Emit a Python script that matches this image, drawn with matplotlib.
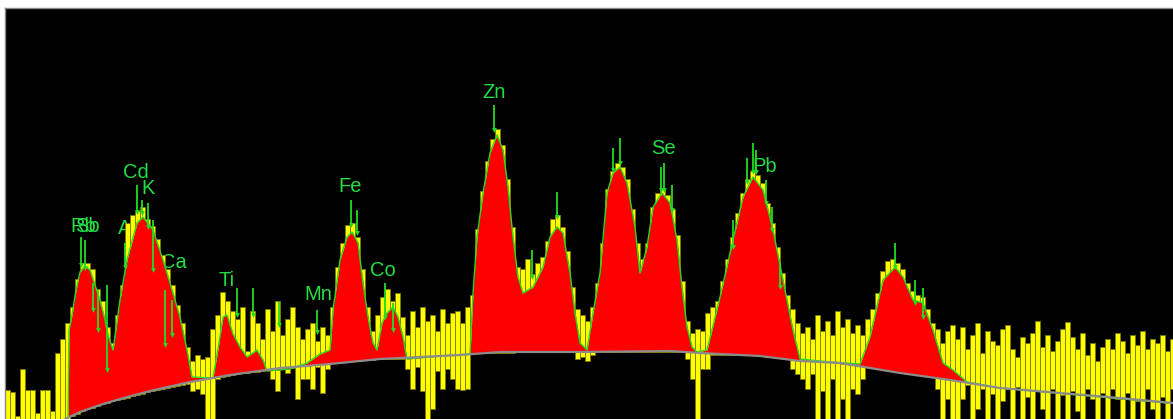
import numpy as np
import matplotlib
matplotlib.use("Agg")
from matplotlib import pyplot as plt

# raw spectrum, one column per 5 px channel (heights in counts above the floor)
raw_hi = [29, 27, 3, 50, 29, 29, 6, 29, 29, 8,
          66, 80, 96, 112, 140, 156, 156, 150, 130, 118,
          92, 76, 104, 134, 196, 204, 208, 212, 200, 193,
          180, 164, 150, 134, 114, 96, 72, 58, 64, 60,
          62, 90, 104, 127, 118, 108, 100, 112, 68, 108,
          96, 80, 110, 88, 118, 84, 100, 112, 92, 80,
          90, 96, 78, 92, 84, 112, 152, 176, 194, 196,
          182, 150, 112, 88, 104, 122, 130, 118, 126, 102,
          84, 108, 92, 112, 98, 104, 88, 110, 96, 106,
          108, 96, 112, 124, 190, 228, 258, 280, 290, 274,
          240, 192, 152, 150, 160, 145, 156, 162, 178, 200,
          204, 192, 168, 132, 110, 104, 98, 112, 136, 176,
          230, 248, 256, 252, 240, 210, 176, 160, 176, 212,
          226, 230, 224, 210, 184, 138, 98, 86, 90, 88,
          106, 112, 118, 138, 160, 182, 206, 226, 240, 248,
          244, 236, 216, 196, 172, 146, 124, 110, 96, 86,
          92, 80, 104, 88, 98, 84, 108, 92, 100, 86,
          94, 84, 100, 110, 126, 148, 158, 160, 156, 150,
          136, 128, 124, 122, 110, 96, 90, 76, 88, 94,
          80, 92, 70, 84, 96, 66, 88, 78, 74, 90,
          94, 70, 62, 82, 76, 86, 98, 72, 84, 68,
          78, 90, 97, 82, 70, 86, 64, 76, 58, 72,
          80, 70, 86, 78, 66, 84, 74, 88, 70, 80,
          76, 84, 68, 80]
raw_lo = [0, 0, 0, 0, 0, 0, 0, 0, 0, 0,
          0, 0, 0, 3, 5, 8, 10, 11, 13, 15,
          16, 18, 19, 20, 21, 23, 24, 25, 27, 28,
          29, 30, 31, 32, 33, 34, 35, 28, 30, 25,
          0, 0, 40, 42, 43, 44, 45, 46, 46, 47,
          47, 48, 49, 40, 28, 50, 46, 51, 20, 40,
          40, 30, 52, 26, 50, 56, 57, 58, 58, 58,
          58, 59, 59, 59, 60, 60, 60, 60, 60, 60,
          50, 30, 52, 28, 0, 10, 48, 30, 50, 40,
          30, 29, 30, 66, 66, 66, 66, 66, 66, 66,
          66, 66, 67, 67, 67, 67, 67, 67, 67, 67,
          67, 67, 67, 67, 60, 62, 58, 64, 67, 67,
          67, 67, 67, 67, 67, 67, 67, 67, 67, 67,
          67, 67, 67, 67, 67, 67, 60, 40, 0, 50,
          50, 64, 64, 64, 64, 64, 64, 64, 64, 64,
          63, 63, 62, 62, 61, 61, 60, 50, 45, 40,
          30, 45, 0, 28, 0, 40, 0, 20, 0, 30,
          25, 40, 54, 55, 55, 54, 54, 53, 53, 52,
          51, 50, 49, 48, 47, 46, 30, 0, 20, 0,
          0, 20, 34, 0, 10, 30, 0, 25, 0, 18,
          30, 0, 32, 0, 22, 0, 28, 10, 0, 30,
          0, 24, 0, 28, 8, 0, 30, 20, 0, 26,
          0, 30, 20, 0, 26, 0, 18, 0, 30, 10,
          0, 22, 0, 30]

# fitted peaks
fit_x = [65, 68, 69, 72, 76, 80, 85, 90, 95, 100,
         105, 108, 113, 120, 127, 137, 143, 153, 163, 170,
         180, 187, 192, 213, 218, 223, 227, 233, 240, 247,
         257, 263, 267, 290, 307, 320, 330, 333, 340, 347,
         352, 358, 363, 368, 373, 377, 382, 387, 393, 398,
         403, 407, 440, 470, 473, 477, 483, 490, 497, 503,
         508, 513, 518, 523, 533, 543, 550, 557, 563, 570,
         575, 580, 587, 593, 600, 607, 613, 620, 627, 635,
         640, 647, 653, 662, 670, 677, 682, 687, 692, 697,
         707, 720, 733, 743, 753, 763, 773, 783, 793, 800,
         830, 860, 870, 883, 895, 903, 913, 923, 933, 943,
         953, 967, 1000, 1168]
fit_h = [0, 1, 89, 104, 129, 147, 153, 149, 134, 119,
         99, 84, 69, 119, 159, 196, 202, 189, 159, 136,
         102, 69, 42, 41, 70, 102, 104, 85, 72, 62,
         69, 59, 48, 50, 56, 65, 69, 109, 159, 182,
         187, 176, 136, 102, 76, 69, 96, 106, 112, 102,
         82, 60, 63, 65, 126, 182, 226, 266, 284, 269,
         232, 182, 142, 126, 132, 152, 182, 192, 186, 146,
         106, 76, 69, 106, 146, 226, 246, 252, 236, 192,
         146, 172, 212, 226, 216, 179, 132, 92, 72, 67,
         69, 122, 179, 222, 242, 229, 189, 139, 89, 60,
         57, 55, 82, 139, 152, 142, 119, 116, 89, 56,
         49, 37, 31, 16]

# background
base_x = [65, 80, 100, 120, 150, 190, 230, 280, 330, 380, 420, 460, 500,
          580, 670, 700, 760, 800, 840, 900, 950, 1000, 1060, 1120, 1173]
base_h = [0, 7, 14, 20, 28, 37, 44, 51, 55, 60, 62, 64, 67,
          67, 68, 66, 63, 58, 56, 46, 39, 31, 26, 21, 16]

# element line markers
mark_x = [81, 85, 137, 142, 148, 125, 153, 93, 98, 107, 165, 172, 237, 253, 279,
          317, 351, 357, 385, 393, 494, 557, 532, 613, 620, 661, 664, 672, 733,
          747, 753, 756, 766, 772, 780, 895, 915, 923]
mark_top = [182, 179, 234, 219, 216, 176, 199, 136, 129, 134, 129, 119, 131, 131, 117,
            109, 219, 209, 136, 116, 314, 227, 169, 271, 281, 252, 256, 234, 199,
            261, 276, 269, 239, 212, 156, 176, 139, 131]
mark_bot = [154, 151, 207, 206, 192, 152, 149, 109, 89, 49, 74, 84, 104, 104, 94,
            87, 194, 186, 102, 89, 289, 202, 142, 249, 256, 229, 229, 209, 172,
            237, 247, 247, 216, 189, 132, 152, 116, 102]

elements = ["Rb", "Sb", "Ar", "Cd", "K", "Ca", "Ti", "Mn", "Fe", "Co", "Zn", "Se", "Pb"]
elem_x = [83, 87, 128, 136, 148, 174, 227, 318, 350, 383, 494, 663, 765]
elem_y = [192, 192, 191, 247, 231, 157, 138, 124, 232, 149, 326, 271, 253]

fig = plt.figure(figsize=(11.73, 4.19), dpi=100, facecolor="white")
ax = fig.add_axes([5 / 1173, 0, 1168 / 1173, 411 / 419])
ax.set_facecolor("black")

chan = np.arange(len(raw_hi))
chan_x = 5 + 5 * chan + 2.5
hi = np.array(raw_hi)
lo = np.array(raw_lo)

for name, x, y in zip(elements, elem_x, elem_y):
    ax.text(x, y, name, color="#22dd44", fontsize=14.5, ha="center", va="center",
            family=["Liberation Sans", "DejaVu Sans"], zorder=1)

ax.bar(chan_x, hi - lo, bottom=lo, width=4.4, color="#ffff00",
       edgecolor="#7a7a00", linewidth=0.6, zorder=2)

fx = np.array(fit_x)
fb = np.interp(fx, base_x, base_h)
ax.fill_between(fx, fb, fit_h, color="#ff0000", linewidth=0, zorder=3)
ax.plot(fx, fit_h, color="#22dd22", linewidth=1.0, zorder=4)

ax.plot(base_x, base_h, color="#8c8c8c", linewidth=1.6, zorder=5)

ax.vlines(mark_x, mark_bot, mark_top, color="#22dd22", linewidth=1.3, zorder=6)
ax.scatter(mark_x, mark_bot, marker="v", s=12, color="#22dd22", linewidths=0, zorder=6)

ax.set_xlim(5, 1173)
ax.set_ylim(0, 411)
ax.set_xticks([])
ax.set_yticks([])
for side in ["bottom", "right"]:
    ax.spines[side].set_visible(False)
for side in ["top", "left"]:
    ax.spines[side].set_color("#888888")
    ax.spines[side].set_linewidth(1.0)

fig.savefig("out.png", dpi=100, facecolor="white")
